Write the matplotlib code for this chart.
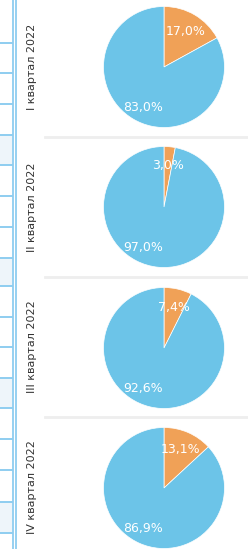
import matplotlib
matplotlib.use("Agg")
import matplotlib.pyplot as plt
from matplotlib.patches import Rectangle
from matplotlib.lines import Line2D
import numpy as np

quarters = ["I квартал 2022", "II квартал 2022", "III квартал 2022", "IV квартал 2022"]
orange_share = [17.0, 3.0, 7.4, 13.1]
blue_share = [83.0, 97.0, 92.6, 86.9]

ORANGE = "#F0A157"
BLUE = "#6CC4E8"

W, H = 248, 549
fig = plt.figure(figsize=(W / 100, H / 100), dpi=100)
fig.patch.set_facecolor("white")

def fx(px):
    return px / W

def fy(py):
    return 1 - py / H

# left decoration: table cells and blue border
row_lines = [43, 73, 104, 135, 165, 196, 227, 258, 286, 317, 347, 378, 408, 439, 470, 502, 533]
shaded = [(135, 165), (258, 286), (378, 408), (502, 533)]
for a, b in shaded:
    fig.patches.append(Rectangle((0, fy(b)), fx(12), (b - a) / H, transform=fig.transFigure,
                                 facecolor="#EEF5FA", edgecolor="none", zorder=0))
for y in row_lines:
    fig.lines.append(Line2D([0, fx(12)], [fy(y), fy(y)], transform=fig.transFigure,
                            color="#8ECDF0", lw=1.4, zorder=1))
for x in [12.5, 15.5]:
    fig.lines.append(Line2D([fx(x), fx(x)], [0, 1], transform=fig.transFigure,
                            color="#8ECDF0", lw=1.3, zorder=1))

# panel separators
for y in [137, 277, 417]:
    fig.lines.append(Line2D([fx(45), 1], [fy(y), fy(y)], transform=fig.transFigure,
                            color="#EEEEEE", lw=2, zorder=1))

centers_y = [67, 207, 348, 488]
cx, R = 164, 60.5
label_y = [67, 207, 347, 487]

for i, q in enumerate(quarters):
    cy = centers_y[i]
    ax = fig.add_axes([fx(cx - R), fy(cy + R), 2 * R / W, 2 * R / H])
    ax.axis("off")
    vals = [orange_share[i], blue_share[i]]
    ax.pie(vals, colors=[ORANGE, BLUE], startangle=90, counterclock=False,
           radius=1, center=(0, 0), frame=False,
           wedgeprops=dict(linewidth=0.5, edgecolor="white"))
    ax.set_xlim(-1.0, 1.0)
    ax.set_ylim(-1.0, 1.0)
    ax.set_aspect("auto")
    # small slice label at mid angle
    mid = vals[0] / 100 * 360 / 2
    r = 0.69
    ax.text(r * np.sin(np.radians(mid)), r * np.cos(np.radians(mid)),
            f"{vals[0]:.1f}".replace(".", ",") + "%", color="white",
            ha="center", va="center", fontsize=9)
    big_ang = 208
    r2 = 0.75
    ax.text(r2 * np.sin(np.radians(big_ang)), r2 * np.cos(np.radians(big_ang)),
            f"{vals[1]:.1f}".replace(".", ",") + "%", color="white",
            ha="center", va="center", fontsize=9)
    fig.text(fx(32), fy(label_y[i]), q, rotation=90, ha="center", va="center",
             fontsize=8, color="#333333")

fig.savefig("out.png", dpi=100, facecolor="white")
